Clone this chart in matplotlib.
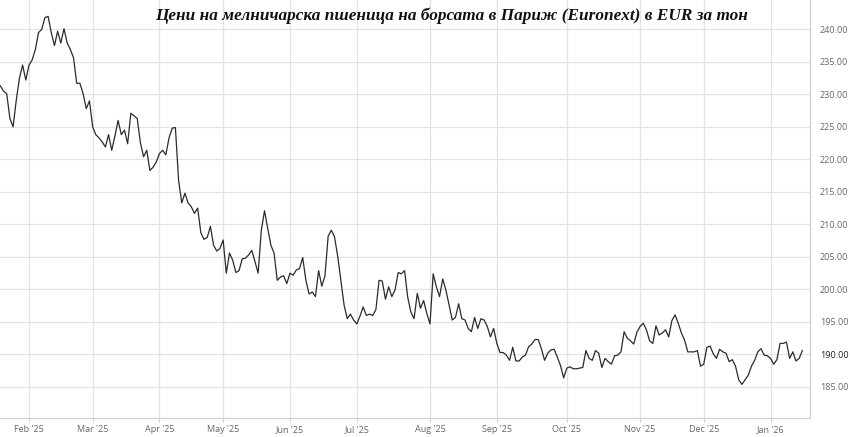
import matplotlib
matplotlib.use("Agg")
import matplotlib.pyplot as plt
import numpy as np
import pandas as pd

# Euronext trading days (holidays excluded)
holidays = ["2025-04-18", "2025-04-21", "2025-05-01", "2025-12-25", "2025-12-26", "2026-01-01"]
dates = pd.bdate_range("2025-01-20", "2026-01-16", freq="C", holidays=holidays)

jan25 = [231.5, 231.3, 230.5, 230.1, 226.3, 225.0, 229.1, 232.5, 234.5, 232.2]
feb25 = [234.5, 235.3, 236.9, 239.5, 240.0, 241.8, 242.0, 239.5, 237.5, 239.7,
         237.9, 240.1, 237.9, 236.9, 235.6, 231.7, 231.7, 230.1, 227.8, 229.0]
mar25 = [225.0, 223.8, 223.3, 222.7, 221.9, 223.8, 221.4, 223.6, 226.0, 223.8,
         224.5, 222.4, 227.1, 226.7, 226.3, 222.6, 220.4, 221.4, 218.3, 218.8, 219.6]
apr25 = [220.9, 221.4, 220.7, 223.3, 224.8, 224.9, 216.8, 213.3, 214.8, 213.3,
         212.7, 211.7, 212.5, 208.7, 207.7, 208.0, 209.7, 206.8, 205.9, 206.3]
may25 = [207.6, 202.5, 205.6, 204.5, 202.6, 202.9, 204.7, 204.8, 205.3, 206.0,
         204.3, 202.5, 209.1, 212.1, 209.4, 206.8, 205.6, 201.4, 201.9, 202.1, 200.9]
jun25 = [202.5, 202.2, 203.0, 203.2, 204.9, 201.4, 199.3, 199.6, 198.9, 202.9,
         200.5, 202.1, 208.2, 209.1, 208.1, 205.1, 201.4, 197.6, 195.5, 196.2, 195.3]
jul25 = [194.7, 195.9, 197.3, 196.0, 196.2, 196.0, 196.9, 201.4, 201.3, 198.5,
         200.4, 198.9, 199.9, 202.6, 202.4, 202.9, 198.8, 196.5, 195.5, 199.4,
         197.1, 198.3, 196.3]
aug25 = [194.7, 202.4, 200.4, 198.9, 201.6, 199.9, 197.6, 195.3, 195.7, 197.8,
         195.5, 195.3, 194.0, 193.5, 195.7, 194.0, 195.5, 195.3, 194.3, 192.7, 194.0]
sep25 = [191.7, 190.3, 190.3, 189.9, 189.1, 191.1, 189.0, 189.0, 189.6, 189.9,
         191.2, 191.6, 192.3, 192.3, 190.9, 189.1, 190.2, 190.7, 190.8, 189.6,
         188.3, 186.4]
oct25 = [187.9, 188.1, 187.8, 187.8, 187.9, 188.0, 190.6, 189.4, 189.1, 190.6,
         190.2, 188.0, 189.4, 188.9, 188.5, 189.8, 189.9, 190.4, 193.5, 192.5,
         192.1, 191.6, 193.4]
nov25 = [194.3, 194.8, 193.8, 192.1, 191.7, 194.4, 193.0, 193.3, 193.8, 192.7,
         195.2, 196.1, 194.8, 193.3, 192.2, 190.4, 190.4, 190.4, 190.6, 188.2]
dec25 = [188.5, 191.1, 191.3, 190.1, 189.4, 190.8, 190.4, 190.2, 188.9, 189.2,
         188.2, 186.1, 185.4, 186.1, 186.8, 188.2, 189.1, 190.4, 190.9, 189.9, 189.8]
jan26 = [189.4, 188.5, 189.2, 191.7, 191.7, 191.9, 189.4, 190.4, 189.0, 189.4, 190.6]

prices = np.array(jan25 + feb25 + mar25 + apr25 + may25 + jun25 + jul25 +
                  aug25 + sep25 + oct25 + nov25 + dec25 + jan26)
n = min(len(prices), len(dates))
prices = prices[:n]
dates = dates[:n]
idx = np.arange(n)

yticks = [185, 190, 195, 200, 205, 210, 215, 220, 225, 230, 235, 240]
title = "Цени на мелничарска пшеница на борсата в Париж (Euronext) в EUR за тон"

W, H = 850, 437
fig = plt.figure(figsize=(W / 100, H / 100), dpi=100)
ax = fig.add_axes([0, 19 / H, 810 / W, 418 / H])

ax.plot(idx, prices, color="#2b2b2b", linewidth=0.9, zorder=3)

# month ticks at first trading day of each month
months = pd.Series(dates.to_period("M"))
first = np.where(months.ne(months.shift()).values)[0]
first = [i for i in first if dates[i].day <= 5]
ax.set_xticks(first)
ax.set_xticklabels([dates[i].strftime("%b '%y") for i in first])

ax.set_xlim(0.89, 255.4)
ax.set_ylim(180.23, 244.51)
ax.set_yticks(yticks)
ax.set_yticklabels([f"{v:.2f}" for v in yticks])
ax.yaxis.tick_right()

ax.grid(True, color="#e3e3e3", linewidth=0.9, zorder=0)
for s in ["top", "left"]:
    ax.spines[s].set_visible(False)
for s in ["right", "bottom"]:
    ax.spines[s].set_color("#d0d0d0")
    ax.spines[s].set_linewidth(0.9)

ax.tick_params(axis="y", length=0, pad=7, labelsize=6.5, labelcolor="#666666")
ax.tick_params(axis="x", length=3, width=0.8, color="#d0d0d0", pad=2,
               labelsize=6.5, labelcolor="#666666")
for lab in ax.get_xticklabels() + ax.get_yticklabels():
    lab.set_family(["Open Sans", "DejaVu Sans"])
for lab in ax.get_yticklabels():
    if lab.get_text() == "190.00":
        lab.set_color("#222222")

fig.text(451.5 / W, 1 - 16 / H, title, ha="center", va="center",
         family=["Liberation Serif", "DejaVu Serif"], fontsize=12.4,
         fontweight="bold", fontstyle="italic", color="#111111")

fig.savefig("out.png", dpi=100, facecolor="white")
